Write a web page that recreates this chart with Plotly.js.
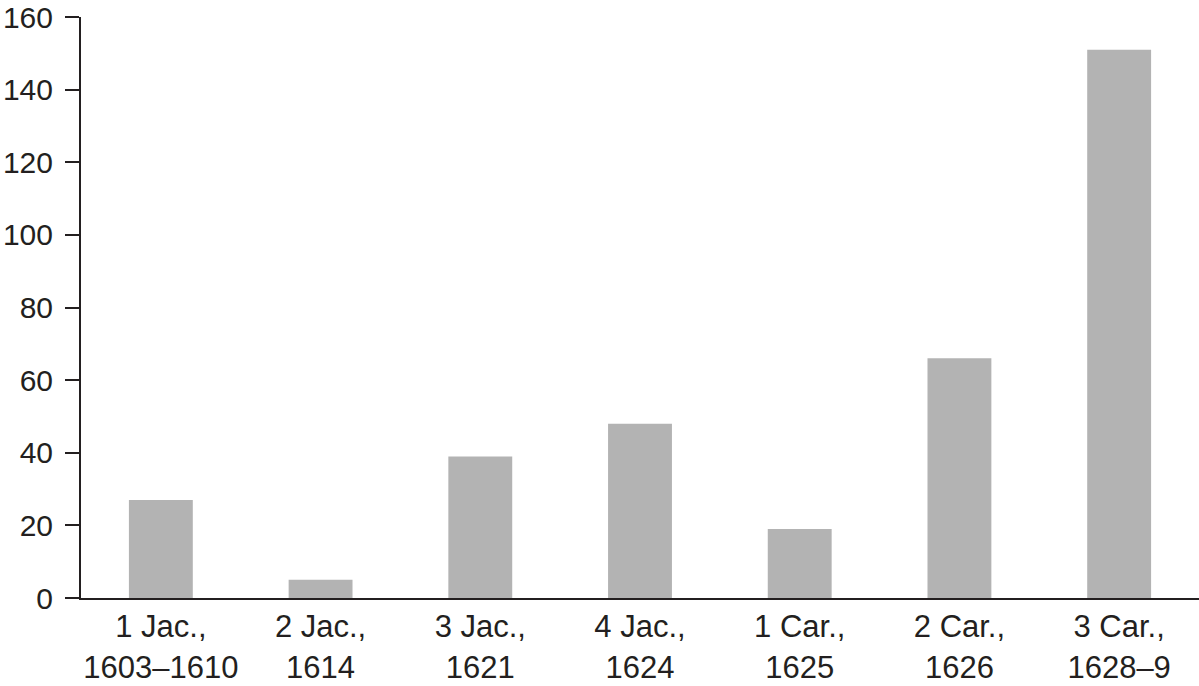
<!DOCTYPE html>
<html>
<head>
<meta charset="utf-8">
<script src="https://cdn.plot.ly/plotly-3.0.1.min.js"></script>
<style>
  body { margin: 0; background: #fff; }
  #graph { width: 1199px; height: 686px; }
</style>
</head>
<body>
<div id="graph"></div>
<script>
var sessions = ['1 Jac.,<br>1603\u20131610', '2 Jac.,<br>1614', '3 Jac.,<br>1621', '4 Jac.,<br>1624',
                '1 Car.,<br>1625', '2 Car.,<br>1626', '3 Car.,<br>1628\u20139'];
var counts = [27, 5, 39, 48, 19, 66, 151];
var yTicks = [0, 20, 40, 60, 80, 100, 120, 140, 160];

function drawGraph() {
    var bars = {
        x: sessions.map(function (s, i) { return i; }),
        y: counts,
        type: 'bar',
        width: 0.4,
        marker: { color: '#b3b3b3', line: { width: 0 } },
        hoverinfo: 'y'
    };

    var layout = {
        width: 1199,
        height: 686,
        margin: { l: 81, r: 0, t: 17, b: 88, pad: 0 },
        paper_bgcolor: '#fff',
        plot_bgcolor: '#fff',
        showlegend: false,
        font: { family: 'Liberation Sans, Arial, sans-serif', size: 31, color: '#231f20' },
        xaxis: {
            range: [-0.5, 6.5],
            tickmode: 'array',
            tickvals: sessions.map(function (s, i) { return i; }),
            ticktext: sessions,
            showline: true,
            linecolor: '#231f20',
            linewidth: 2,
            ticks: '',
            showgrid: false,
            zeroline: false,
            fixedrange: true
        },
        yaxis: {
            range: [0, 160],
            tickmode: 'array',
            tickvals: yTicks,
            tickfont: { size: 30 },
            showline: true,
            linecolor: '#231f20',
            linewidth: 2,
            ticks: 'outside',
            ticklen: 14,
            tickwidth: 2,
            tickcolor: '#231f20',
            ticklabelstandoff: 6,
            showgrid: false,
            zeroline: false,
            fixedrange: true
        }
    };

    Plotly.newPlot('graph', [bars], layout, { displayModeBar: false, staticPlot: true });
}
drawGraph();
</script>
</body>
</html>
